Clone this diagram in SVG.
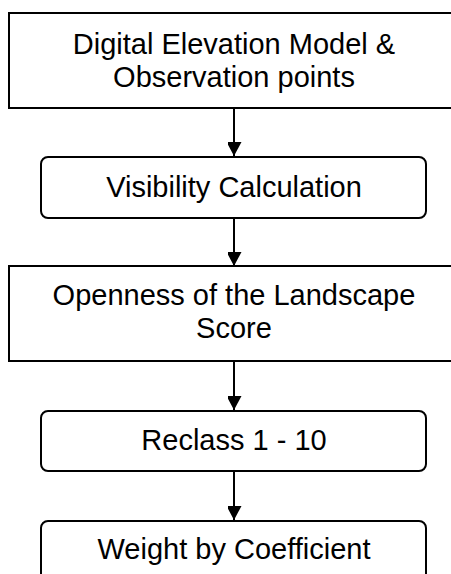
<svg xmlns="http://www.w3.org/2000/svg" width="451" height="574" viewBox="0 0 451 574">
  <defs>
    <marker id="arr" markerUnits="userSpaceOnUse" markerWidth="16" markerHeight="14" refX="14" refY="7.5" orient="auto">
      <path d="M0,0 L14,7.5 L0,15 Z" fill="#000"/>
    </marker>
    <style>
      .box { fill: #fff; stroke: #000; stroke-width: 2; }
      .lbl { font-family: "Liberation Sans", Arial, sans-serif; font-size: 29px; fill: #000; text-anchor: middle; }
      .con { stroke: #000; stroke-width: 2; fill: none; marker-end: url(#arr); }
    </style>
  </defs>
  <rect width="451" height="574" fill="#fff"/>
  <g id="connectors">
    <line class="con" x1="234" y1="108" x2="234" y2="156"/>
    <line class="con" x1="234" y1="218" x2="234" y2="266"/>
    <line class="con" x1="234" y1="361" x2="234" y2="410"/>
    <line class="con" x1="234" y1="471" x2="234" y2="520"/>
  </g>
  <g id="dem">
    <rect class="box" x="9" y="13" width="450" height="95"/>
    <text class="lbl" x="234" y="54">Digital Elevation Model &amp;</text>
    <text class="lbl" x="234" y="87">Observation points</text>
  </g>
  <g id="visibility">
    <rect class="box" x="41" y="157" width="385" height="61" rx="7"/>
    <text class="lbl" x="234" y="197">Visibility Calculation</text>
  </g>
  <g id="openness">
    <rect class="box" x="9" y="266" width="450" height="95"/>
    <text class="lbl" x="234" y="305">Openness of the Landscape</text>
    <text class="lbl" x="234" y="338">Score</text>
  </g>
  <g id="reclass">
    <rect class="box" x="41" y="411" width="385" height="60" rx="7"/>
    <text class="lbl" x="234" y="450">Reclass 1 - 10</text>
  </g>
  <g id="weight">
    <rect class="box" x="41" y="521" width="385" height="62" rx="7"/>
    <text class="lbl" x="234" y="559">Weight by Coefficient</text>
  </g>
</svg>
